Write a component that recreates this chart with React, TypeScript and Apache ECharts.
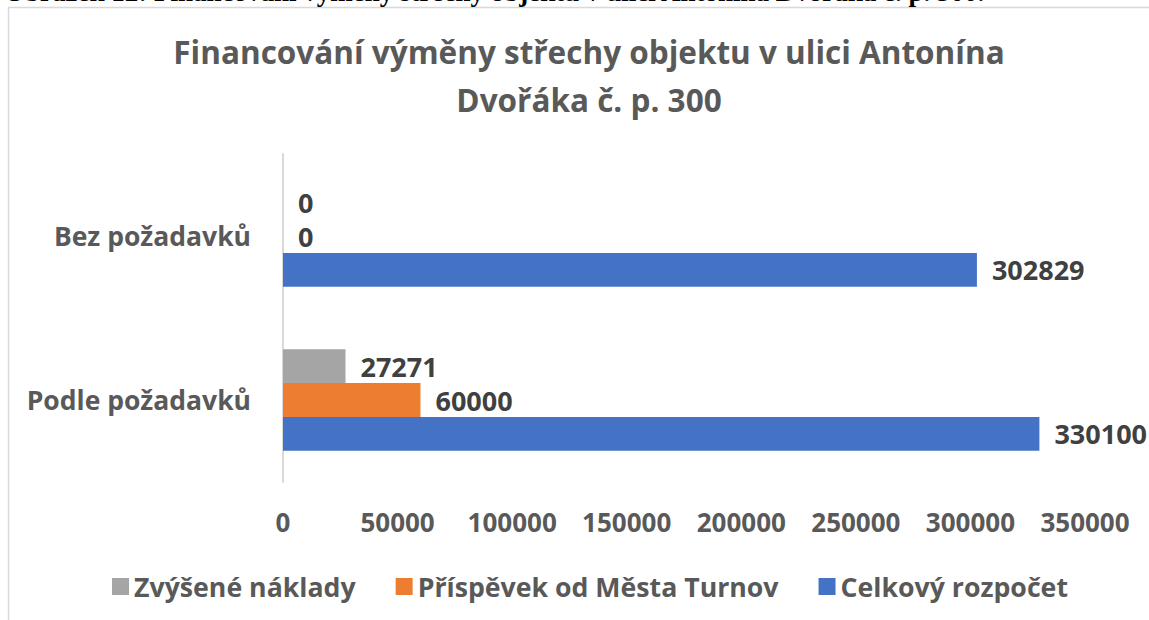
import React, { useEffect, useRef } from "react";
import * as echarts from "echarts";

const categories = ["Bez požadavků", "Podle požadavků"];
const seriesNames = ["Zvýšené náklady", "Příspěvek od Města Turnov", "Celkový rozpočet"];
const zvyseneNaklady = [0, 27271];
const prispevekMesta = [0, 60000];
const celkovyRozpocet = [302829, 330100];
const seriesColors = ["#A5A5A5", "#ED7D31", "#4472C4"];
const xTickMax = 350000;
const xTickStep = 50000;

const titleText = "Financování výměny střechy objektu v ulici Antonína\nDvořáka č. p. 300";
const captionText = "Obrázek 12: Financování výměny střechy objektu v ulici Antonína Dvořáka č. p. 300.";

const FONT = "'Open Sans'";
const FS = 26;

export default function App() {
  const ref = useRef<HTMLDivElement>(null);
  useEffect(() => {
    if (!ref.current) return;
    const chart = echarts.init(ref.current, undefined, { renderer: "svg" });
    const values = [zvyseneNaklady, prispevekMesta, celkovyRozpocet];
    chart.setOption({
      animation: false,
      backgroundColor: "#ffffff",
      textStyle: { fontFamily: FONT },
      title: {
        text: titleText,
        left: 584,
        top: 22,
        textAlign: "center",
        textStyle: {
          fontFamily: FONT,
          fontSize: 31.5,
          fontWeight: "bold",
          color: "#595959",
          lineHeight: 48,
        },
      },
      graphic: [
        {
          type: "rect",
          shape: { x: 8.5, y: 7.5, width: 1300, height: 800 },
          style: { fill: "none", stroke: "#d9d9d9", lineWidth: 1.5 },
          silent: true,
        },
        {
          type: "text",
          x: 4,
          y: 5.5,
          style: {
            text: captionText,
            font: "bold 27px 'Liberation Serif', 'Times New Roman', serif",
            fill: "#000000",
            textVerticalAlign: "bottom",
          },
          silent: true,
        },
      ],
      legend: {
        data: seriesNames,
        left: 107,
        top: 568,
        icon: "rect",
        itemWidth: 17,
        itemHeight: 17,
        itemGap: 40,
        textStyle: {
          fontFamily: FONT,
          fontSize: 26.7,
          fontWeight: "bold",
          color: "#595959",
          padding: [0, 0, 0, 0],
        },
      },
      grid: { left: 283, right: 64, top: 154, bottom: 138, containLabel: false },
      xAxis: {
        type: "value",
        min: 0,
        max: xTickMax,
        interval: xTickStep,
        splitLine: { show: false },
        axisLine: { show: false },
        axisTick: { show: false },
        axisLabel: {
          margin: 27,
          formatter: (v: number) => String(v),
          fontFamily: FONT,
          fontSize: FS,
          fontWeight: "bold",
          color: "#595959",
        },
      },
      yAxis: {
        type: "category",
        data: categories,
        inverse: true,
        axisLine: { show: true, lineStyle: { color: "#d9d9d9", width: 2 } },
        axisTick: { show: false },
        axisLabel: {
          margin: 32,
          fontFamily: FONT,
          fontSize: 26.5,
          fontWeight: "bold",
          color: "#595959",
        },
      },
      series: seriesNames.map((name, i) => ({
        name,
        type: "bar",
        data: values[i],
        barGap: "0%",
        barCategoryGap: "38%",
        itemStyle: { color: seriesColors[i] },
        label: {
          show: true,
          position: "right",
          distance: 15,
          fontFamily: FONT,
          fontSize: 27,
          fontWeight: "bold",
          color: "#404040",
        },
      })),
    });
    return () => chart.dispose();
  }, []);
  return (
    <div
      ref={ref}
      style={{ position: "fixed", left: 0, top: 0, width: 1149, height: 620 }}
    />
  );
}
